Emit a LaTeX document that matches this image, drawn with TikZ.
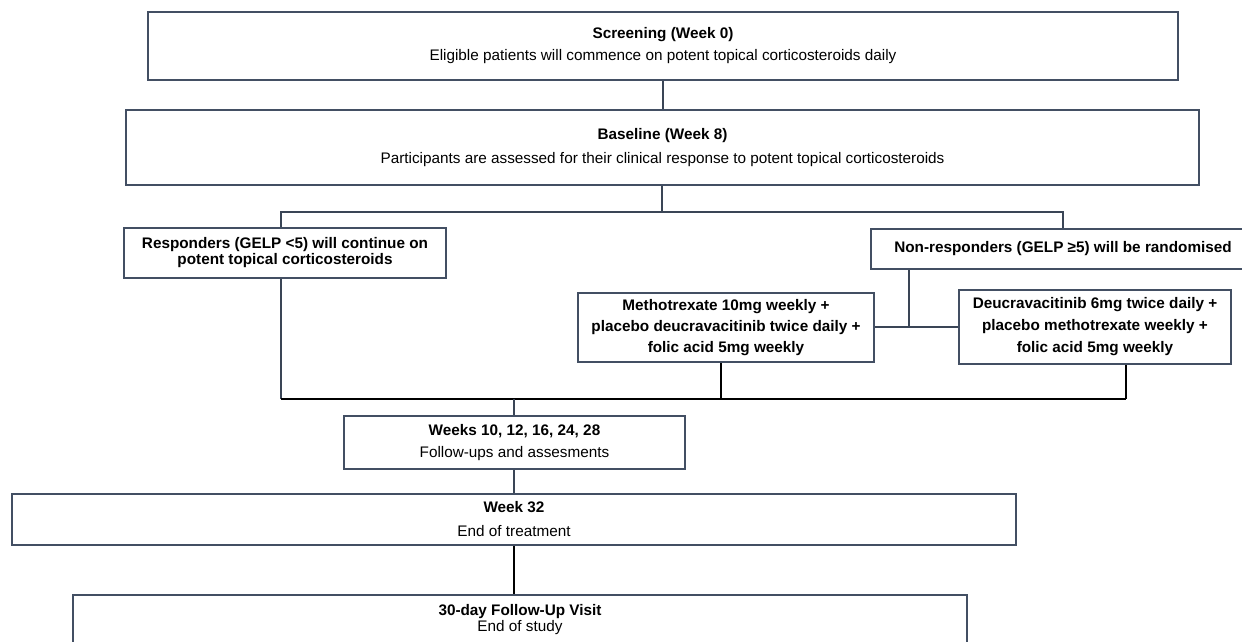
\documentclass[tikz,border=0pt]{standalone}
\usepackage{fontspec}
\setmainfont{Liberation Sans}
\definecolor{boxc}{HTML}{434F63}
\definecolor{linec}{HTML}{3A4556}
\tikzset{
  flowbox/.style={draw=boxc, line width=2pt, inner sep=0pt, align=center, fill=white},
  txt/.style={inner sep=0pt, align=center},
  conn/.style={draw=linec, line width=1.5pt},
  connb/.style={draw=black, line width=1.8pt},
}
\newcommand{\fs}[1]{\fontsize{15.3}{#1}\selectfont}
\begin{document}
\begin{tikzpicture}[x=1pt,y=-1pt]
\useasboundingbox (0,0) rectangle (1242,641);
\clip (0,0) rectangle (1242,641);
\node[flowbox, minimum width=1030pt, minimum height=68pt, font=\fs{22}] (scr) at (663,46)
  {\textbf{Screening (Week 0)}\\Eligible patients will commence on potent topical corticosteroids daily};
\node[flowbox, minimum width=1073pt, minimum height=75pt, font=\fs{24}] (base) at (662.5,147.5)
  {\textbf{Baseline (Week 8)}\\Participants are assessed for their clinical response to potent topical corticosteroids};
\node[flowbox, minimum width=322pt, minimum height=50pt, font=\fs{16}\bfseries] (resp) at (285,253)
  {Responders (GELP <5) will continue on\\potent topical corticosteroids};
\node[flowbox, minimum width=384pt, minimum height=40pt, font=\fs{16}\bfseries] (nonr) at (1063,249)
  {Non-responders (GELP ≥5) will be randomised};
\node[flowbox, minimum width=296pt, minimum height=69pt, font=\fs{21}\bfseries] (meth) at (726,327.5)
  {Methotrexate 10mg weekly +\\placebo deucravacitinib twice daily +\\folic acid 5mg weekly};
\node[flowbox, minimum width=272pt, minimum height=74pt, font=\fs{22}\bfseries] (deuc) at (1095,327)
  {Deucravacitinib 6mg twice daily +\\placebo methotrexate weekly +\\folic acid 5mg weekly};
\node[flowbox, minimum width=341pt, minimum height=53pt, font=\fs{22}] (weeks) at (514.5,442.5)
  {\textbf{Weeks 10, 12, 16, 24, 28}\\Follow-ups and assesments};
\node[flowbox, minimum width=1004pt, minimum height=51pt, font=\fs{24}] (w32) at (514,519.5)
  {\textbf{Week 32}\\End of treatment};
\node[flowbox, minimum width=894pt, minimum height=90pt, anchor=north] (fup) at (520,594) {};
\node[txt, font=\fs{16}] (fuptxt) at (520,620)
  {\textbf{30-day Follow-Up Visit}\\End of study};
% connectors
\coordinate (j1) at (662,212);
\coordinate (rj) at (281,212);
\coordinate (nj) at (1063,212);
\draw[conn] (scr.south) -- (scr.south |- base.north);
\draw[conn] (base.south -| j1) -- (j1);
\draw[conn] (resp.north -| rj) -- (rj) -- (nj) -- (nonr.north -| nj);
\coordinate (j2) at (909,327);
\draw[conn] (nonr.south -| j2) -- (j2);
\draw[conn] (meth.east |- j2) -- (deuc.west |- j2);
\coordinate (r3) at (281,399);
\coordinate (m3) at (721,399);
\coordinate (d3) at (1126,399);
\coordinate (j3) at (514,399);
\draw[conn] (resp.south -| r3) -- (r3);
\draw[connb] (r3) -- (d3);
\draw[connb] (meth.south -| m3) -- (m3);
\draw[connb] (deuc.south -| d3) -- (d3);
\draw[conn] (j3) -- (weeks.north -| j3);
\draw[conn] (weeks.south -| j3) -- (w32.north -| j3);
\draw[connb] (w32.south -| j3) -- (fup.north -| j3);
\end{tikzpicture}
\end{document}
